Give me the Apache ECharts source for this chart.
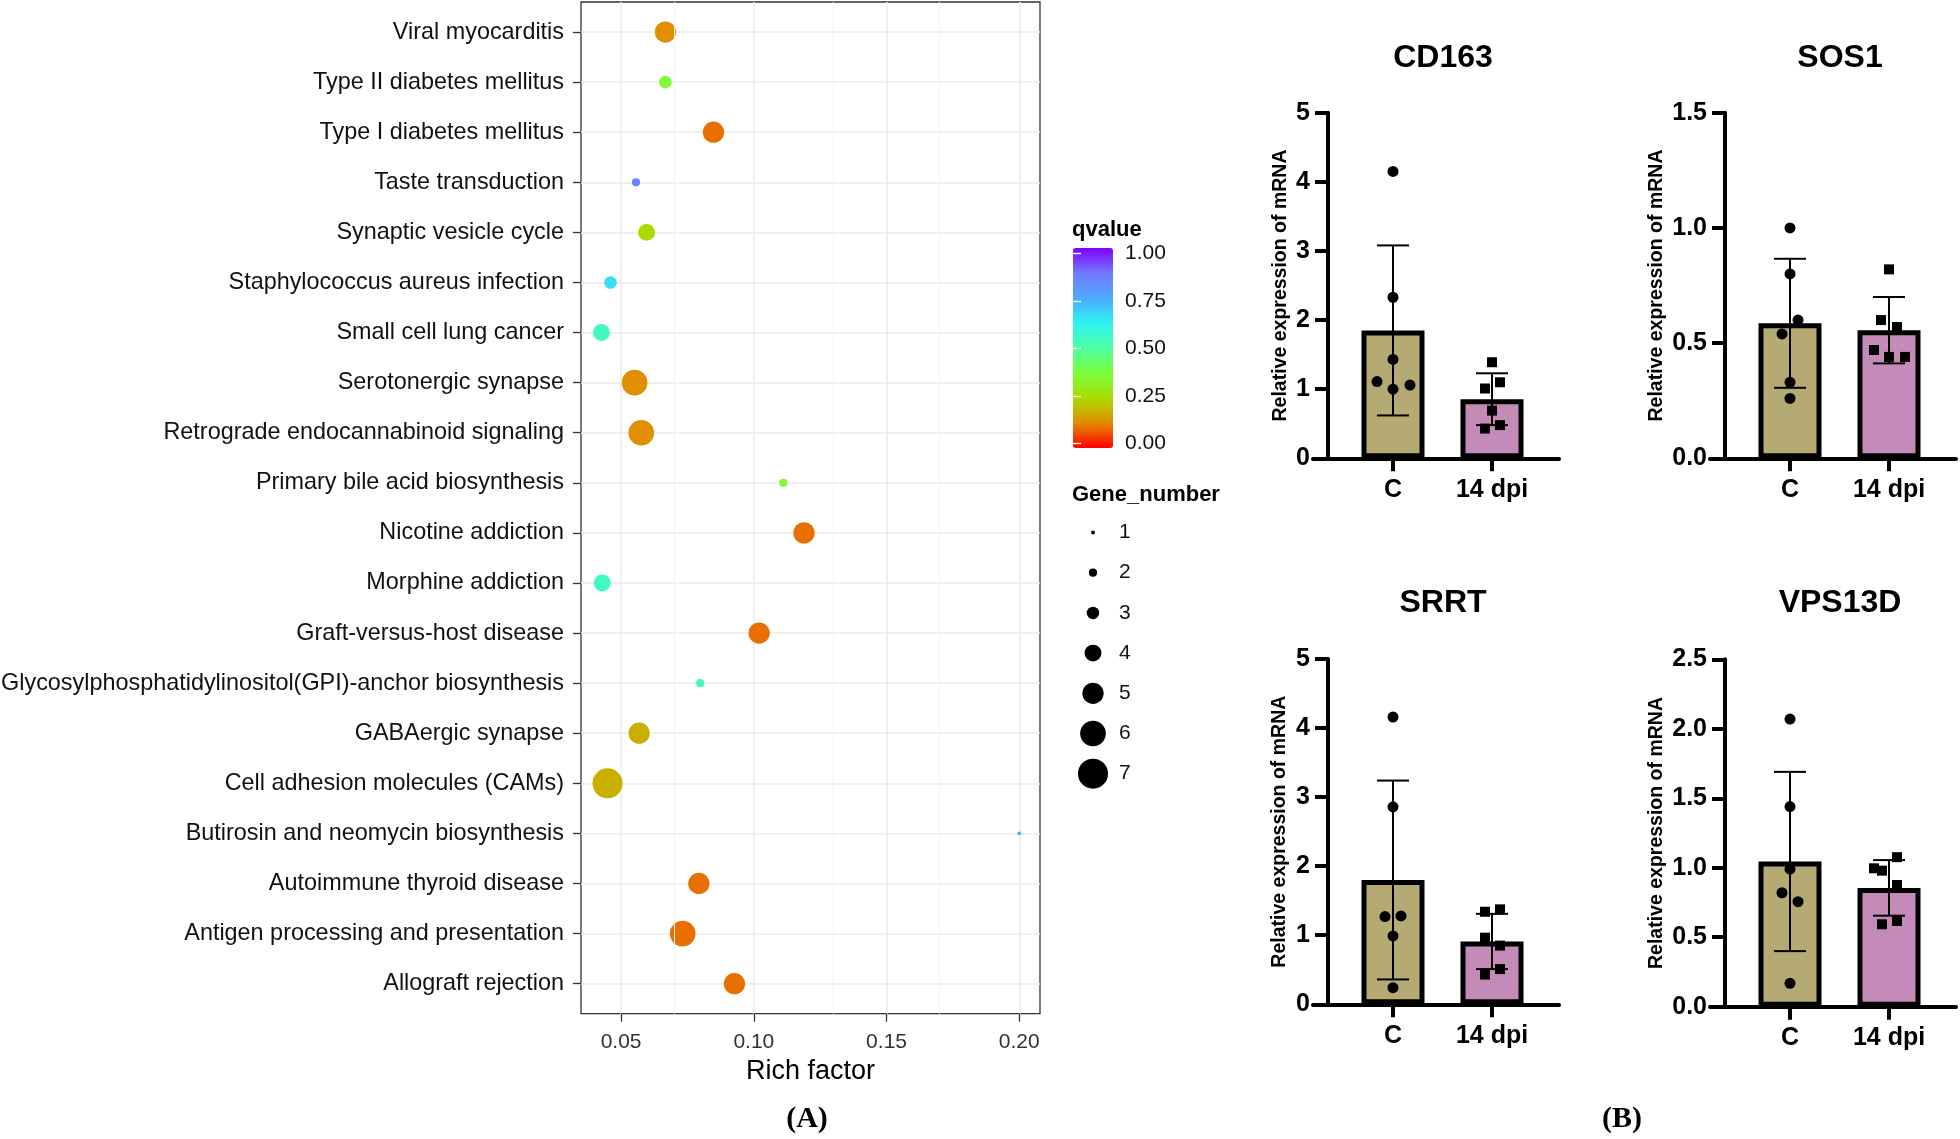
<!DOCTYPE html>
<html>
<head>
<meta charset="utf-8">
<script src="https://cdn.jsdelivr.net/npm/echarts@6/dist/echarts.min.js"></script>
<style>
html, body { margin: 0; padding: 0; background: #fff; }
#main { width: 1960px; height: 1139px; }
</style>
</head>
<body>
<div id="main"></div>
<script>
// ---- (A) KEGG enrichment bubble plot ----
var pathways = ['Allograft rejection', 'Antigen processing and presentation', 'Autoimmune thyroid disease',
    'Butirosin and neomycin biosynthesis', 'Cell adhesion molecules (CAMs)', 'GABAergic synapse',
    'Glycosylphosphatidylinositol(GPI)-anchor biosynthesis', 'Graft-versus-host disease', 'Morphine addiction',
    'Nicotine addiction', 'Primary bile acid biosynthesis', 'Retrograde endocannabinoid signaling',
    'Serotonergic synapse', 'Small cell lung cancer', 'Staphylococcus aureus infection', 'Synaptic vesicle cycle',
    'Taste transduction', 'Type I diabetes mellitus', 'Type II diabetes mellitus', 'Viral myocarditis']
var richFactor = [0.0927, 0.0732, 0.0793, 0.2000, 0.0449, 0.0568, 0.0798, 0.1020, 0.0429, 0.1189,
    0.1111, 0.0576, 0.0551, 0.0426, 0.0460, 0.0596, 0.0556, 0.0848, 0.0667, 0.0667]
var geneNumber = [5, 6, 5, 1, 7, 5, 2, 5, 4, 5, 2, 6, 6, 4, 3, 4, 2, 5, 3, 5]
var qvalue = [0.10, 0.10, 0.10, 0.74, 0.18, 0.18, 0.55, 0.10, 0.55, 0.10,
    0.36, 0.13, 0.13, 0.55, 0.66, 0.25, 0.85, 0.10, 0.36, 0.13]
var richTicks = [0.05, 0.10, 0.15, 0.20]
var richMinor = [0.075, 0.125, 0.175]
var sizeLegend = ['1', '2', '3', '4', '5', '6', '7']

// ---- (B) qPCR bar charts ----
var groups = ['C', '14 dpi']
var genes = ['CD163', 'SOS1', 'SRRT', 'VPS13D']
var cd163Mean = [1.85, 0.855], cd163Sd = [1.23, 0.375]
var cd163C = [4.15, 2.33, 1.43, 1.11, 1.06, 1.00]
var cd163D = [1.39, 1.10, 1.01, 0.69, 0.48, 0.43]
var sos1Mean = [0.586, 0.556], sos1Sd = [0.28, 0.144]
var sos1C = [1.00, 0.80, 0.60, 0.54, 0.33, 0.26]
var sos1D = [0.82, 0.60, 0.57, 0.47, 0.44, 0.44]
var srrtMean = [1.80, 0.91], srrtSd = [1.44, 0.40]
var srrtC = [4.16, 2.86, 1.27, 1.28, 0.99, 0.24]
var srrtD = [1.34, 1.375, 0.965, 0.85, 0.51, 0.43]
var vpsMean = [1.045, 0.855], vpsSd = [0.645, 0.20]
var vpsC = [2.07, 1.44, 0.99, 0.82, 0.756, 0.168]
var vpsD = [1.076, 0.996, 0.979, 0.876, 0.593, 0.617]

// horizontal jitter of the dots (px)
var cd163CJit = [0, 0, 0, -16, 17, 0], cd163DJit = [0, 8, -7, 0, 8, -7]
var sos1CJit = [0, 0, 8, -8, 0, 0], sos1DJit = [0, -8, 8, -15, 0, 16]
var srrtCJit = [0, 0, -8, 8, 0, 0], srrtDJit = [-7, 8, -7, 8, 8, -7]
var vpsCJit = [0, 0, 0, -8, 8, 0], vpsDJit = [8, -15, -7, 8, -7, 8]

var SANS = '"Liberation Sans", Arial, Helvetica, sans-serif'
var SERIF = '"Liberation Serif", "Times New Roman", serif'
var qColors = ['#FF0000', '#E38B00', '#A8DC00', '#7CFF3C', '#4CFFA4', '#2EF2F0', '#4EAAFF', '#7478FF', '#8000FF']
var barColors = ['#B5A974', '#C48BB9']

function bubbleSize(n) {
    return 3.8 + 4.37 * (n - 1)
}

var myChart = echarts.init(document.getElementById('main'))

var option = {
    animation: false,
    backgroundColor: '#fff',
    textStyle: { fontFamily: SANS },
    grid: [],
    xAxis: [],
    yAxis: [],
    series: [],
    graphic: []
}

// grid 0: bubble plot
option.grid.push({ left: 581, top: 2, width: 459, height: 1011.7, show: true, borderColor: '#333', borderWidth: 1.3,
    outerBoundsMode: 'none' })
option.xAxis.push({
    gridIndex: 0, type: 'value', min: 0.0349, max: 0.2078,
    axisLine: { show: false, onZero: false },
    axisTick: { show: true, customValues: richTicks, length: 8, lineStyle: { color: '#333', width: 1.3 } },
    axisLabel: { customValues: richTicks, fontSize: 21, color: '#333', margin: 18,
        formatter: function(v) { return v.toFixed(2) } },
    splitLine: { show: true, lineStyle: { color: '#EBEBEB', width: 1.6 } },
    name: 'Rich factor', nameLocation: 'middle', nameGap: 43,
    nameTextStyle: { fontSize: 27, color: '#000' }
})
option.yAxis.push({
    gridIndex: 0, type: 'value', min: -0.6, max: 19.6,
    axisLine: { show: false, onZero: false },
    axisTick: { show: true, customValues: pathways.map(function(p, i) { return i }), length: 8,
        lineStyle: { color: '#333', width: 1.3 } },
    axisLabel: { customValues: pathways.map(function(p, i) { return i }), fontSize: 23.4, color: '#111', margin: 17,
        formatter: function(v) { return pathways[Math.round(v)] } },
    splitLine: { show: true, lineStyle: { color: '#EBEBEB', width: 1.6 } }
})
option.series.push({
    name: 'pathways', type: 'scatter', xAxisIndex: 0, yAxisIndex: 0, z: 3,
    data: pathways.map(function(p, i) { return [richFactor[i], i, geneNumber[i], qvalue[i]] }),
    symbolSize: function(v) { return bubbleSize(v[2]) },
    itemStyle: { opacity: 1 }
})
option.series.push({
    name: 'minor grid', type: 'line', xAxisIndex: 0, yAxisIndex: 0, z: 1, data: [],
    markLine: { silent: true, symbol: 'none', label: { show: false },
        lineStyle: { color: '#F2F2F2', width: 1, type: 'solid' },
        data: richMinor.map(function(v) { return { xAxis: v } }) }
})

// grid 1: Gene_number legend
option.grid.push({ left: 1075, top: 512.4, width: 36, height: 281.4, outerBoundsMode: 'none' })
option.xAxis.push({ gridIndex: 1, type: 'value', min: -1, max: 1, show: false })
option.yAxis.push({
    gridIndex: 1, type: 'category', data: sizeLegend, inverse: true, position: 'right',
    axisLine: { show: false }, axisTick: { show: false },
    axisLabel: { fontSize: 21, color: '#111', margin: 8 }
})
option.series.push({
    name: 'size legend', type: 'scatter', xAxisIndex: 1, yAxisIndex: 1,
    data: sizeLegend.map(function(s) { return [0, s] }),
    symbolSize: function(v) { return bubbleSize(+v[1]) },
    itemStyle: { color: '#000', opacity: 1 }
})

// grid 2: axis for the qvalue colour bar
option.grid.push({ left: 1073, top: 253.3, width: 40, height: 190, outerBoundsMode: 'none' })
option.xAxis.push({ gridIndex: 2, type: 'value', min: 0, max: 1, show: false })
option.yAxis.push({
    gridIndex: 2, type: 'value', min: 0, max: 1, interval: 0.25, position: 'right', z: 10,
    axisLine: { show: false }, splitLine: { show: false },
    axisTick: { show: true, inside: true, length: 8, lineStyle: { color: '#fff', width: 1.3 } },
    axisLabel: { fontSize: 21, color: '#111', margin: 12, formatter: function(v) { return v.toFixed(2) } }
})
option.yAxis.push({
    gridIndex: 2, type: 'value', min: 0, max: 1, interval: 0.25, position: 'left', z: 10,
    axisLine: { show: false }, splitLine: { show: false }, axisLabel: { show: false },
    axisTick: { show: true, inside: true, length: 8, lineStyle: { color: '#fff', width: 1.3 } }
})

option.visualMap = [{
    type: 'continuous', seriesIndex: 0, dimension: 3, min: 0, max: 1,
    inRange: { color: qColors },
    left: 1073, top: 248, itemWidth: 40, itemHeight: 200, padding: 0,
    calculable: false, text: null, z: 4
}]

// ---- (B) panels ----
var panelMeans = [cd163Mean, sos1Mean, srrtMean, vpsMean]
var panelSds = [cd163Sd, sos1Sd, srrtSd, vpsSd]
var panelC = [cd163C, sos1C, srrtC, vpsC]
var panelD = [cd163D, sos1D, srrtD, vpsD]
var panelCJit = [cd163CJit, sos1CJit, srrtCJit, vpsCJit]
var panelDJit = [cd163DJit, sos1DJit, srrtDJit, vpsDJit]
var yMax = [5, 1.5, 5, 2.5]
var yStep = [1, 0.5, 1, 0.5]
var yDec = [0, 1, 0, 1]
// axis position of each panel (px)
var panelAxisX = [1328, 1725, 1328, 1725]
var panelTop = [112.7, 112.7, 659, 659.3]
var panelBottom = [458.3, 458.3, 1004.3, 1006.7]
var panelNameGap = [37, 58, 38, 58]
var panelTitleY = [58, 58, 603, 603]

var xMin = 1 - 80 / 99, xMax = xMin + 246 / 99

function renderErr(params, api) {
    var lo = api.coord([api.value(0), api.value(1) - api.value(2)])
    var hi = api.coord([api.value(0), api.value(1) + api.value(2)])
    var hw = 16
    var st = { stroke: '#000', lineWidth: 2 }
    return { type: 'group', children: [
        { type: 'line', shape: { x1: lo[0], y1: lo[1], x2: hi[0], y2: hi[1] }, style: st },
        { type: 'line', shape: { x1: lo[0] - hw, y1: lo[1], x2: lo[0] + hw, y2: lo[1] }, style: st },
        { type: 'line', shape: { x1: hi[0] - hw, y1: hi[1], x2: hi[0] + hw, y2: hi[1] }, style: st }
    ] }
}

genes.forEach(function(g, k) {
    var gi = option.grid.length
    var xi = option.xAxis.length
    var yi = option.yAxis.length
    option.grid.push({ left: panelAxisX[k] - 15, width: 246, top: panelTop[k],
        height: panelBottom[k] - panelTop[k], outerBoundsMode: 'none' })
    option.xAxis.push({
        gridIndex: gi, type: 'value', min: xMin, max: xMax,
        axisLine: { show: true, onZero: false, lineStyle: { color: '#000', width: 4 } },
        axisTick: { show: true, customValues: [1, 2], length: 13, lineStyle: { color: '#000', width: 4 } },
        axisLabel: { customValues: [1, 2], fontSize: 25, fontWeight: 'bold', color: '#000', margin: 19,
            formatter: function(v) { return groups[Math.round(v) - 1] } },
        splitLine: { show: false }
    })
    option.yAxis.push({
        gridIndex: gi, type: 'value', min: 0, max: yMax[k], interval: yStep[k], offset: -15,
        axisLine: { show: true, onZero: false, lineStyle: { color: '#000', width: 4 } },
        axisTick: { show: true, length: 13, lineStyle: { color: '#000', width: 4 } },
        axisLabel: { fontSize: 25, fontWeight: 'bold', color: '#000', margin: 18,
            formatter: function(v) { return v.toFixed(yDec[k]) } },
        splitLine: { show: false },
        name: 'Relative expression of mRNA', nameLocation: 'middle', nameGap: panelNameGap[k],
        nameTextStyle: { fontSize: 19.5, fontWeight: 'bold', color: '#000' }
    })
    option.series.push({
        name: g + ' bars', type: 'bar', xAxisIndex: xi, yAxisIndex: yi, barWidth: 63, z: 2,
        data: groups.map(function(c, j) { return [j + 1, panelMeans[k][j]] }),
        itemStyle: { borderColor: '#000', borderWidth: 5,
            color: function(p) { return barColors[p.dataIndex] } }
    })
    option.series.push({
        name: g + ' sd', type: 'custom', xAxisIndex: xi, yAxisIndex: yi, z: 3,
        renderItem: renderErr,
        data: groups.map(function(c, j) { return [j + 1, panelMeans[k][j], panelSds[k][j]] })
    })
    option.series.push({
        name: g + ' C', type: 'scatter', xAxisIndex: xi, yAxisIndex: yi, z: 4,
        symbol: 'circle', symbolSize: 11, itemStyle: { color: '#000', opacity: 1 },
        data: panelC[k].map(function(v, j) { return { value: [1, v], symbolOffset: [panelCJit[k][j], 0] } })
    })
    option.series.push({
        name: g + ' 14 dpi', type: 'scatter', xAxisIndex: xi, yAxisIndex: yi, z: 4,
        symbol: 'rect', symbolSize: 10, itemStyle: { color: '#000', opacity: 1 },
        data: panelD[k].map(function(v, j) { return { value: [2, v], symbolOffset: [panelDJit[k][j], 0] } })
    })
    option.graphic.push({ type: 'text', x: panelAxisX[k] + 115, y: panelTitleY[k],
        style: { text: g, font: 'bold 32px ' + SANS, fill: '#000', textAlign: 'center', textVerticalAlign: 'middle' } })
})

// legend titles and panel letters
option.graphic.push({ type: 'text', x: 1072, y: 230,
    style: { text: 'qvalue', font: 'bold 22px ' + SANS, fill: '#000', textVerticalAlign: 'middle' } })
option.graphic.push({ type: 'text', x: 1072, y: 495,
    style: { text: 'Gene_number', font: 'bold 22px ' + SANS, fill: '#000', textVerticalAlign: 'middle' } })
option.graphic.push({ type: 'text', x: 807, y: 1119,
    style: { text: '(A)', font: 'bold 30px ' + SERIF, fill: '#000', textAlign: 'center', textVerticalAlign: 'middle' } })
option.graphic.push({ type: 'text', x: 1622, y: 1119,
    style: { text: '(B)', font: 'bold 30px ' + SERIF, fill: '#000', textAlign: 'center', textVerticalAlign: 'middle' } })

myChart.setOption(option)
</script>
</body>
</html>
